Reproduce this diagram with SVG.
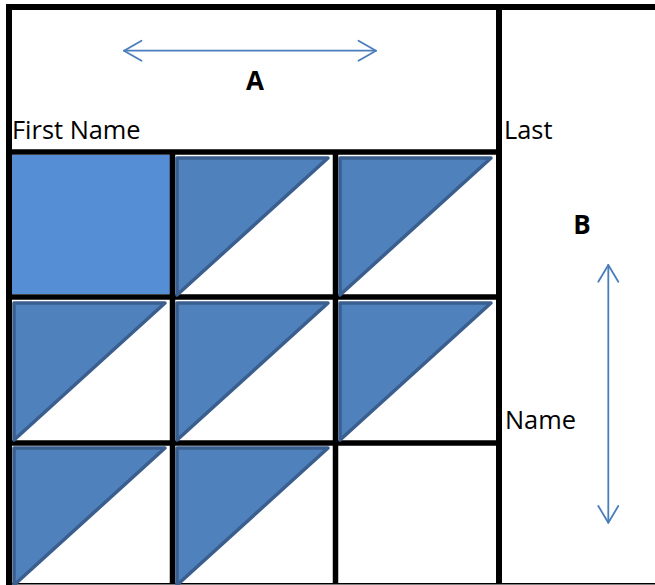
<svg xmlns="http://www.w3.org/2000/svg" width="655" height="585" viewBox="0 0 655 585">
<style>
.grid{stroke:#000;stroke-width:5.5;fill:none}
.outer{stroke:#000;stroke-width:6;fill:none}
.tri{fill:#4F81BD;stroke:#3A5F8E;stroke-width:3.5;stroke-linejoin:round}
.lbl{font-family:"Open Sans","Liberation Sans",sans-serif;font-size:25.4px;fill:#000}
.bold{font-family:"Open Sans","Liberation Sans",sans-serif;font-size:26px;font-weight:bold;fill:#000}
.arr{stroke:#4A7EBB;stroke-width:1.8;fill:none;stroke-linecap:round;stroke-linejoin:round}
</style>
<rect width="655" height="585" fill="#fff"/>
<g id="cell-r1c1"><rect x="12" y="155" width="158" height="139" fill="#558ED5"/></g>
<g id="grid">
<line class="outer" x1="6" y1="7" x2="655" y2="7"/>
<line class="outer" x1="9" y1="4" x2="9" y2="585"/>
<line class="outer" x1="499" y1="4" x2="499" y2="584"/>
<line class="grid" x1="9" y1="152" x2="499" y2="152"/>
<line class="grid" x1="9" y1="297" x2="499" y2="297"/>
<line class="grid" x1="9" y1="443" x2="499" y2="443"/>
<line class="grid" x1="172.5" y1="152" x2="172.5" y2="584"/>
<line class="grid" x1="335.5" y1="152" x2="335.5" y2="584"/>
<line x1="6" y1="583.8" x2="655" y2="583.8" stroke="#000" stroke-width="1.5"/>
</g>
<g id="cell-r1c2"><polygon class="tri" points="177,158 328,158 177,295"/></g>
<g id="cell-r1c3"><polygon class="tri" points="340,158 491,158 340,295"/></g>
<g id="cell-r2c1"><polygon class="tri" points="14,303 165,303 14,440"/></g>
<g id="cell-r2c2"><polygon class="tri" points="177,303 328,303 177,440"/></g>
<g id="cell-r2c3"><polygon class="tri" points="340,303 491,303 340,440"/></g>
<g id="cell-r3c1"><polygon class="tri" points="14,448 165,448 14,585"/></g>
<g id="cell-r3c2"><polygon class="tri" points="177,448 328,448 177,585"/></g>
<g id="connectors">
<line class="arr" x1="124" y1="50.7" x2="376" y2="50.7"/>
<polyline class="arr" points="141.5,40.7 124,50.7 141.5,60.7"/>
<polyline class="arr" points="358.5,40.7 376,50.7 358.5,60.7"/>
<line class="arr" x1="608.3" y1="265" x2="608.3" y2="522.7"/>
<polyline class="arr" points="598.3,281.7 608.3,265 618.3,281.7"/>
<polyline class="arr" points="598.3,506 608.3,522.7 618.3,506"/>
</g>
<g id="labels">
<text class="lbl" x="12" y="139">First Name</text>
<text class="lbl" x="504" y="139">Last</text>
<text class="lbl" x="505" y="429">Name</text>
<text class="bold" x="255" y="90" text-anchor="middle">A</text>
<text class="bold" x="582" y="234" text-anchor="middle">B</text>
</g>
</svg>
